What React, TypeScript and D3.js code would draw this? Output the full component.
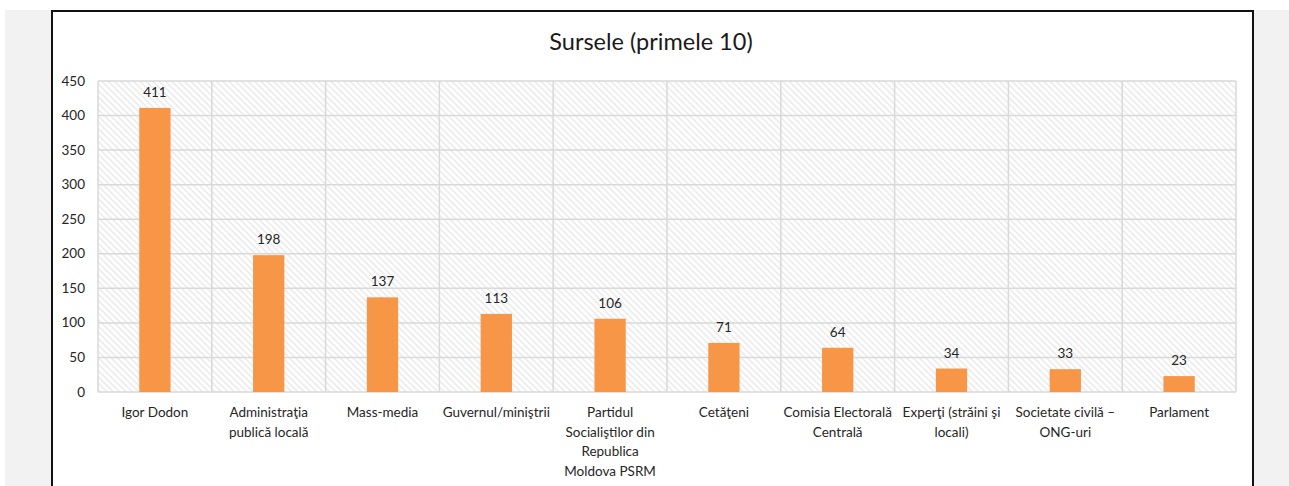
import React from "react";
import * as d3 from "d3";

const categories: string[][] = [
  ["Igor Dodon"],
  ["Administraţia", "publică locală"],
  ["Mass-media"],
  ["Guvernul/miniştrii"],
  ["Partidul", "Socialiştilor din", "Republica", "Moldova PSRM"],
  ["Cetăţeni"],
  ["Comisia Electorală", "Centrală"],
  ["Experţi (străini şi", "locali)"],
  ["Societate civilă –", "ONG-uri"],
  ["Parlament"],
];
const values: number[] = [411, 198, 137, 113, 106, 71, 64, 34, 33, 23];
const yTicks: number[] = [0, 50, 100, 150, 200, 250, 300, 350, 400, 450];
const title = "Sursele (primele 10)";

const W = 1289;
const H = 486;
const plot = { left: 98, right: 1236, top: 81, bottom: 392 };
const FONT = "Lato, 'Open Sans', sans-serif";

export default function App() {
  const x = d3
    .scaleBand<number>()
    .domain(d3.range(categories.length))
    .range([plot.left, plot.right])
    .paddingInner(0)
    .paddingOuter(0);
  const y = d3.scaleLinear().domain([0, 450]).range([plot.bottom, plot.top]);
  const bw = x.bandwidth() * 0.275;

  return (
    <svg
      width={W}
      height={H}
      style={{ position: "absolute", left: 0, top: 0, display: "block" }}
    >
      <defs>
        <pattern
          id="hatch"
          patternUnits="userSpaceOnUse"
          width={4.5}
          height={4.5}
          patternTransform="rotate(-45)"
        >
          <rect width={4.5} height={4.5} fill="#ffffff" />
          <line x1={1} y1={0} x2={1} y2={4.5} stroke="#e2e2e2" strokeWidth={1.1} />
        </pattern>
      </defs>
      <rect x={0} y={0} width={W} height={H} fill="#ffffff" />
      <rect x={5} y={10} width={W - 5} height={H - 10} fill="#f2f2f2" />
      <rect x={52} y={11} width={1201} height={H + 20} fill="#ffffff" stroke="#111" strokeWidth={2} />

      <text
        x={651}
        y={50}
        textAnchor="middle"
        fontFamily={FONT}
        fontSize={23.5}
        fill="#1a1a1a"
      >
        {title}
      </text>

      <rect
        x={plot.left}
        y={plot.top}
        width={plot.right - plot.left}
        height={plot.bottom - plot.top}
        fill="url(#hatch)"
      />
      {yTicks.map((t) => (
        <line
          key={"h" + t}
          x1={plot.left}
          x2={plot.right}
          y1={y(t)}
          y2={y(t)}
          stroke="#d9d9d9"
          strokeWidth={1.5}
        />
      ))}
      {d3.range(categories.length + 1).map((i) => {
        const xv = i < categories.length ? (x(i) as number) : plot.right;
        return (
          <line
            key={"v" + i}
            x1={xv}
            x2={xv}
            y1={plot.top}
            y2={plot.bottom}
            stroke="#d9d9d9"
            strokeWidth={1.5}
          />
        );
      })}

      {values.map((v, i) => {
        const cx = (x(i) as number) + x.bandwidth() / 2;
        return (
          <g key={"b" + i}>
            <rect
              x={cx - bw / 2}
              y={y(v)}
              width={bw}
              height={y(0) - y(v)}
              fill="#f79646"
            />
            <text
              x={cx}
              y={y(v) - 11}
              textAnchor="middle"
              fontFamily={FONT}
              fontSize={13.5}
              fill="#262626"
            >
              {v}
            </text>
          </g>
        );
      })}

      {yTicks.map((t) => (
        <text
          key={"yt" + t}
          x={85}
          y={y(t) + 4.5}
          textAnchor="end"
          fontFamily={FONT}
          fontSize={13.5}
          fill="#262626"
        >
          {t}
        </text>
      ))}

      {categories.map((lines, i) => {
        const cx = (x(i) as number) + x.bandwidth() / 2;
        return (
          <text
            key={"c" + i}
            textAnchor="middle"
            fontFamily={FONT}
            fontSize={13.5}
            fill="#262626"
          >
            {lines.map((ln, j) => (
              <tspan key={j} x={cx} y={417 + j * 19.5}>
                {ln}
              </tspan>
            ))}
          </text>
        );
      })}
    </svg>
  );
}
